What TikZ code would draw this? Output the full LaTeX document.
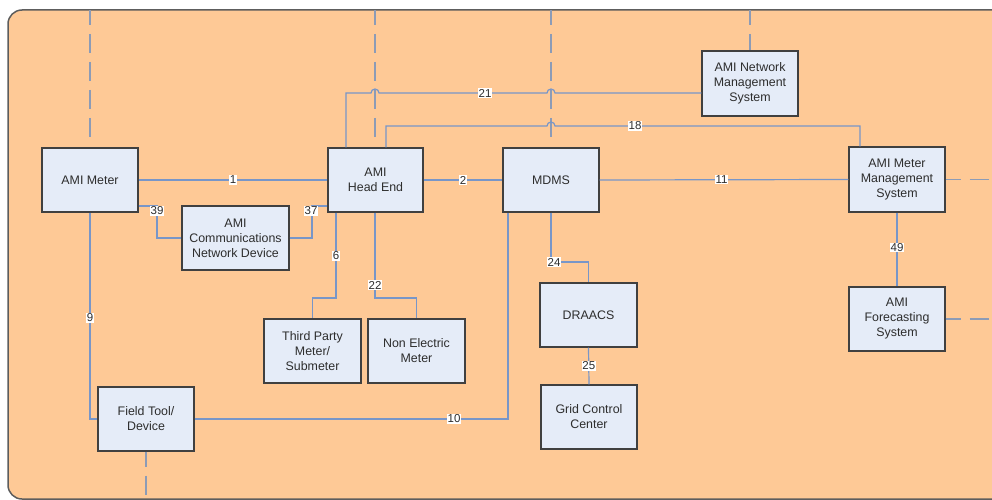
\documentclass[tikz,border=0pt]{standalone}
\usepackage{fontspec}
\setmainfont{Liberation Sans}
\definecolor{bgor}{RGB}{254,201,150}
\definecolor{boxfill}{RGB}{229,236,248}
\definecolor{boxline}{RGB}{64,64,64}
\definecolor{conncol}{RGB}{120,150,200}
\definecolor{dashcol}{RGB}{140,155,182}
\definecolor{txt}{RGB}{45,45,45}
\begin{document}
\begin{tikzpicture}[x=1pt,y=-1pt,
  sysbox/.style={draw=boxline,fill=boxfill,line width=1.3pt,minimum width=96pt,minimum height=64pt,inner sep=1pt,align=center,text=txt,font=\fontsize{12.4}{15}\selectfont},
  conn/.style={draw=conncol,line width=1.2pt},
  dline/.style={draw=dashcol,line width=1.6pt,dash pattern=on 19pt off 9pt,dash phase=4pt},
  lbl/.style={fill=white,inner sep=0.6pt,text=txt,font=\fontsize{11.5}{12}\selectfont}]
\useasboundingbox (0,0) rectangle (992,500);
\draw[fill=bgor,draw=boxline!85,line width=1.5pt,rounded corners=14pt] (8,10) rectangle (1030,499);

% nodes
\node[sysbox] (meter) at (90,180) {AMI Meter};
\node[sysbox,minimum width=95pt] (he) at (375.5,180) {AMI\\Head End};
\node[sysbox,minimum width=107pt] (comm) at (235.5,238) {AMI\\Communications\\Network Device};
\node[sysbox] (mdms) at (551,180) {MDMS};
\node[sysbox,minimum height=65pt] (nms) at (750,83.5) {AMI Network\\Management\\System};
\node[sysbox,minimum height=65pt] (mms) at (897,179.5) {AMI Meter\\Management\\System};
\node[sysbox,minimum width=97pt] (third) at (312.5,351) {Third Party\\Meter/\\Submeter};
\node[sysbox,minimum width=97pt] (nonel) at (416.5,351) {Non Electric\\Meter};
\node[sysbox] (field) at (146,419) {Field Tool/\\Device};
\node[sysbox,minimum width=97pt] (draacs) at (588.5,315) {DRAACS};
\node[sysbox] (grid) at (589,417) {Grid Control\\Center};
\node[sysbox] (fore) at (897,319) {AMI\\Forecasting\\System};

% dashed external links
\draw[dline] (90,10) -- (90,141);
\draw[dline] (375,10) -- (375,141);
\draw[dline] (551,10) -- (551,141);
\draw[dline] (750,10) -- (nms.north);
\draw[dline] (mms.east) -- (992,179.5);
\draw[dline] (fore.east) -- (992,319);
\draw[dline] (field.south) -- (146,498);

% connectors
\draw[conn] (meter.east) -- node[lbl]{1} (he.west);
\draw[conn] (he.east) -- node[lbl]{2} (mdms.west);
\draw[conn] (mdms.east) -- node[lbl,pos=0.49]{11} (mms.west);
\draw[conn] (meter.east |- 0,206) -- (157,206) -- (157,238) -- (comm.west);
\node[lbl] (l39) at (157,211) {39};
\draw[conn] (comm.east) -- (312,238) -- (312,206) -- (he.west |- 0,206);
\node[lbl] (l37) at (311,211) {37};
\draw[conn] (he.south -| 336,0) -- (336,298) -- (312.5,298) -- (third.north);
\node[lbl] (l6) at (336,256) {6};
\draw[conn] (he.south -| 375,0) -- (375,298) -- (416.5,298) -- (nonel.north);
\node[lbl] (l22) at (375,285) {22};
\draw[conn] (he.north -| 346,0) -- (346,93) -- (371,93) arc[start angle=180,end angle=0,radius=4pt] -- (547,93) arc[start angle=180,end angle=0,radius=4pt] -- (nms.west |- 0,93);
\node[lbl] (l21) at (485,93) {21};
\draw[conn] (he.north -| 386,0) -- (386,126) -- (547,126) arc[start angle=180,end angle=0,radius=4pt] -- (860,126) -- (mms.north -| 860,0);
\node[lbl] (l18) at (635,126) {18};
\draw[conn] (mdms.south) -- (551,262) -- (588.5,262) -- (draacs.north);
\node[lbl] (l24) at (554,262) {24};
\draw[conn] (draacs.south) -- node[lbl]{25} (grid.north);
\draw[conn] (mms.south) -- node[lbl,pos=0.47]{49} (fore.north);
\draw[conn] (meter.south) -- (90,419) -- (field.west);
\node[lbl] (l9) at (90,318) {9};
\draw[conn] (field.east) -- (508,419) -- (mdms.south -| 508,0);
\node[lbl] (l10) at (454,419) {10};
\end{tikzpicture}
\end{document}
